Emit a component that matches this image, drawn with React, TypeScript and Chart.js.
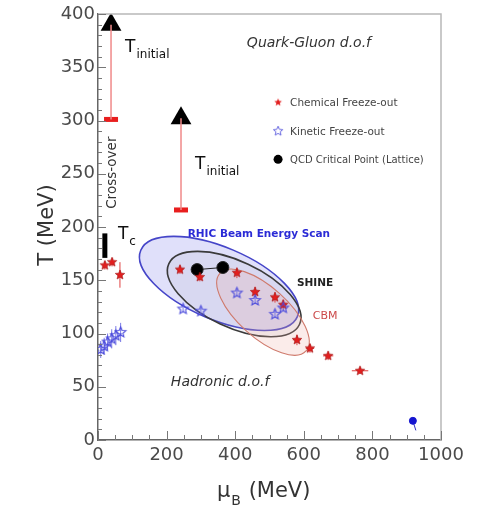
import React, { useEffect, useRef } from "react";
import { Chart, registerables } from "chart.js";
Chart.register(...registerables);

// ---- Data (MeV) ----
const chemMu = [20, 41, 64, 239, 297, 405, 458, 516, 540, 580, 618, 671, 764];
const chemT = [164, 167, 155, 160, 153, 157, 139, 134, 127, 94, 86, 79, 65];
const chemMuErr = [3, 3, 5, 10, 10, 10, 10, 10, 10, 12, 12, 15, 24];
const chemTErr = [4, 4, 12, 4, 4, 5, 5, 5, 5, 5, 4, 4, 3];

const kinMu = [8, 18, 28, 40, 52, 66, 248, 300, 405, 458, 516, 540];
const kinT = [85, 88, 92, 95, 98, 101, 123, 121, 138, 131, 118, 124];
const kinTErr = [8, 8, 8, 9, 9, 9, 3, 3, 3, 3, 3, 3];

const critMu = [289, 364];
const critT = [160, 162];

const tInitMu = [38, 242];
const tInitHigh = [390, 302];
const tInitLow = [301, 216];

const tcMu = [20, 20];
const tcT = [171, 194];

const nucMu = [918];
const nucT = [18];
const nucTErr = [9];

// Experimental programme regions: centre (mu, T), semi-axes (in mu / T units), tilt (deg)
const regionNames = ["RHIC", "SHINE", "CBM"];
const regionMu = [353, 397, 481];
const regionT = [147, 137, 120];
const regionRMu = [248, 210, 169];
const regionRT = [34, 31, 23.5];
const regionTilt = [23, 25, 42];

const xTicks = [0, 200, 400, 600, 800, 1000];
const yTicks = [0, 50, 100, 150, 200, 250, 300, 350, 400];

function makeStar(size: number, fill: string | null, stroke: string | null, lw: number) {
  const c = document.createElement("canvas");
  const pad = 2;
  c.width = c.height = size + pad * 2;
  const ctx = c.getContext("2d")!;
  const cx = c.width / 2, cy = c.height / 2;
  const R = size / 2, r = R * 0.45;
  ctx.beginPath();
  for (let i = 0; i < 10; i++) {
    const a = -Math.PI / 2 + (i * Math.PI) / 5;
    const rad = i % 2 === 0 ? R : r;
    const px = cx + rad * Math.cos(a), py = cy + rad * Math.sin(a);
    if (i === 0) ctx.moveTo(px, py); else ctx.lineTo(px, py);
  }
  ctx.closePath();
  if (fill) { ctx.fillStyle = fill; ctx.fill(); }
  if (stroke) { ctx.strokeStyle = stroke; ctx.lineWidth = lw; ctx.stroke(); }
  return c;
}

const regionStyle: Record<string, { fill: string; stroke: string; width: number }> = {
  RHIC: { fill: "rgba(165,165,240,0.35)", stroke: "#4545c8", width: 1.6 },
  SHINE: { fill: "rgba(140,140,160,0.10)", stroke: "#3a3a3a", width: 1.6 },
  CBM: { fill: "rgba(235,170,160,0.22)", stroke: "#cf7a6c", width: 1.1 },
};

export default function App() {
  const ref = useRef<HTMLCanvasElement>(null);

  useEffect(() => {
    const canvas = ref.current!;
    const redStar = makeStar(10, "#e21f1f", "#a01010", 0.6);
    const blueStar = makeStar(11, null, "#4b4bdc", 1.1);
    const legRed = makeStar(8, "#e21f1f", null, 0);
    const legBlue = makeStar(10, null, "#6a6ae0", 1);

    const plugin = {
      id: "phaseDiagram",
      beforeDatasetsDraw(chart: any) {
        const { ctx, scales: { x, y } } = chart;
        ctx.save();
        regionNames.forEach((n, i) => {
          const cx = x.getPixelForValue(regionMu[i]);
          const cy = y.getPixelForValue(regionT[i]);
          const rx = Math.abs(x.getPixelForValue(regionMu[i] + regionRMu[i]) - cx);
          const ry = Math.abs(y.getPixelForValue(regionT[i] + regionRT[i]) - cy);
          const st = regionStyle[n];
          ctx.beginPath();
          ctx.ellipse(cx, cy, rx, ry, (regionTilt[i] * Math.PI) / 180, 0, Math.PI * 2);
          ctx.fillStyle = st.fill;
          ctx.fill();
          ctx.strokeStyle = st.stroke;
          ctx.lineWidth = st.width;
          ctx.stroke();
        });
        // error bars
        ctx.lineWidth = 1;
        ctx.strokeStyle = "#e04040";
        chemMu.forEach((m, i) => {
          const px = x.getPixelForValue(m), py = y.getPixelForValue(chemT[i]);
          ctx.beginPath();
          ctx.moveTo(x.getPixelForValue(m - chemMuErr[i]), py);
          ctx.lineTo(x.getPixelForValue(m + chemMuErr[i]), py);
          ctx.moveTo(px, y.getPixelForValue(chemT[i] - chemTErr[i]));
          ctx.lineTo(px, y.getPixelForValue(chemT[i] + chemTErr[i]));
          ctx.stroke();
        });
        ctx.strokeStyle = "#7a7ae6";
        kinMu.forEach((m, i) => {
          const px = x.getPixelForValue(m);
          ctx.beginPath();
          ctx.moveTo(px, y.getPixelForValue(kinT[i] - kinTErr[i]));
          ctx.lineTo(px, y.getPixelForValue(kinT[i] + kinTErr[i]));
          ctx.stroke();
        });
        ctx.strokeStyle = "#3030c0";
        nucMu.forEach((m, i) => {
          const px = x.getPixelForValue(m);
          ctx.beginPath();
          ctx.moveTo(px, y.getPixelForValue(nucT[i]));
          ctx.lineTo(px + 3, y.getPixelForValue(nucT[i] - nucTErr[i]));
          ctx.stroke();
        });
        ctx.restore();
      },
      afterDraw(chart: any) {
        const { ctx, chartArea: ca, scales: { x, y } } = chart;
        ctx.save();
        // frame top/right
        ctx.strokeStyle = "#b8b8b8";
        ctx.lineWidth = 1.5;
        ctx.beginPath();
        ctx.moveTo(ca.left, ca.top);
        ctx.lineTo(ca.right, ca.top);
        ctx.lineTo(ca.right, ca.bottom);
        ctx.stroke();
        // inward ticks
        ctx.strokeStyle = "#777";
        ctx.lineWidth = 1;
        for (let v = 0; v <= 400; v += 10) {
          const py = Math.round(y.getPixelForValue(v)) + 0.5;
          const len = v % 50 === 0 ? 8 : 4;
          ctx.beginPath();
          ctx.moveTo(ca.left, py);
          ctx.lineTo(ca.left + len, py);
          ctx.stroke();
        }
        for (let v = 0; v <= 1000; v += 50) {
          const px = Math.round(x.getPixelForValue(v)) + 0.5;
          const len = v % 200 === 0 ? 9 : 5;
          ctx.beginPath();
          ctx.moveTo(px, ca.bottom);
          ctx.lineTo(px, ca.bottom - len);
          ctx.stroke();
        }

        const X = (m: number) => x.getPixelForValue(m);
        const Y = (t: number) => y.getPixelForValue(t);
        const text = (s: string, px: number, py: number, font: string, color: string, align: CanvasTextAlign = "left") => {
          ctx.font = font;
          ctx.fillStyle = color;
          ctx.textAlign = align;
          ctx.textBaseline = "alphabetic";
          ctx.fillText(s, px, py);
          return ctx.measureText(s).width;
        };

        // T_initial labels
        const sub = (main: string, s: string, m: number, t: number) => {
          const px = X(m), py = Y(t);
          const w = text(main, px, py, "17px 'DejaVu Sans'", "#111");
          text(s, px + w + 1, py + 6, "12px 'DejaVu Sans'", "#111");
        };
        sub("T", "initial", 79, 364);
        sub("T", "initial", 283, 254);
        sub("T", "c", 58, 189);

        // Cross-over (rotated)
        ctx.save();
        ctx.translate(X(38), Y(251));
        ctx.rotate(-Math.PI / 2);
        text("Cross-over", 0, 5, "13.5px 'DejaVu Sans'", "#333", "center");
        ctx.restore();

        text("Quark-Gluon d.o.f", X(615), Y(369), "italic 14px 'DejaVu Sans'", "#333", "center");
        text("Hadronic d.o.f", X(356), Y(51), "italic 14px 'DejaVu Sans'", "#333", "center");
        text("RHIC Beam Energy Scan", X(469), Y(191), "bold 10.5px 'DejaVu Sans'", "#2b2bd6", "center");
        text("SHINE", X(633), Y(145), "bold 10.5px 'DejaVu Sans'", "#222", "center");
        text("CBM", X(662), Y(114), "11px 'DejaVu Sans'", "#cc4a4a", "center");

        // legend
        const lx = X(525), tx = X(560);
        const rows = [317, 290, 263.5];
        ctx.drawImage(legRed, lx - legRed.width / 2, Y(rows[0]) - legRed.height / 2);
        ctx.drawImage(legBlue, lx - legBlue.width / 2, Y(rows[1]) - legBlue.height / 2);
        ctx.beginPath();
        ctx.arc(lx, Y(rows[2]), 4.5, 0, Math.PI * 2);
        ctx.fillStyle = "#000";
        ctx.fill();
        const lf = "10.5px 'DejaVu Sans'";
        text("Chemical Freeze-out", tx, Y(rows[0]) + 4, lf, "#444");
        text("Kinetic Freeze-out", tx, Y(rows[1]) + 4, lf, "#444");
        text("QCD Critical Point (Lattice)", tx, Y(rows[2]) + 4, "10px 'DejaVu Sans'", "#444");

        // axis titles
        const tf = "21px 'DejaVu Sans'";
        const cx = 217;
        const wmu = text("μ", cx, 497, tf, "#333");
        const wb = text("B", cx + wmu + 1, 505, "14px 'DejaVu Sans'", "#333");
        text(" (MeV)", cx + wmu + wb + 2, 497, tf, "#333");

        ctx.save();
        ctx.translate(53, 225);
        ctx.rotate(-Math.PI / 2);
        text("T (MeV)", 0, 0, tf, "#333", "center");
        ctx.restore();

        ctx.restore();
      },
    };

    const chart = new Chart(canvas, {
      type: "scatter",
      data: {
        datasets: [
          {
            label: "T initial 1",
            data: [{ x: tInitMu[0], y: tInitHigh[0] }, { x: tInitMu[0], y: tInitLow[0] }],
            showLine: true, borderColor: "#f08a8a", borderWidth: 1.5, pointRadius: 0,
          },
          {
            label: "T initial 2",
            data: [{ x: tInitMu[1], y: tInitHigh[1] }, { x: tInitMu[1], y: tInitLow[1] }],
            showLine: true, borderColor: "#f08a8a", borderWidth: 1.5, pointRadius: 0,
          },
          {
            label: "Tc",
            data: tcMu.map((m, i) => ({ x: m, y: tcT[i] })),
            showLine: true, borderColor: "#000", borderWidth: 5, pointRadius: 0,
          },
          {
            label: "T initial low",
            data: tInitMu.map((m, i) => ({ x: m, y: tInitLow[i] })),
            pointStyle: "line", pointRadius: 7, borderWidth: 5, borderColor: "#e81e1e", backgroundColor: "#e81e1e",
          },
          {
            label: "T initial high",
            data: tInitMu.map((m, i) => ({ x: m, y: tInitHigh[i] })),
            pointStyle: "triangle", pointRadius: 12, borderWidth: 0, backgroundColor: "#000",
          },
          {
            label: "Kinetic Freeze-out",
            data: kinMu.map((m, i) => ({ x: m, y: kinT[i] })),
            pointStyle: blueStar as any, pointRadius: 6,
          },
          {
            label: "Chemical Freeze-out",
            data: chemMu.map((m, i) => ({ x: m, y: chemT[i] })),
            pointStyle: redStar as any, pointRadius: 6,
          },
          {
            label: "QCD Critical Point (Lattice)",
            data: critMu.map((m, i) => ({ x: m, y: critT[i] })),
            showLine: true, borderColor: "#222", borderWidth: 1,
            pointStyle: "circle", pointRadius: 6, backgroundColor: "#000",
          },
          {
            label: "Nuclear matter",
            data: nucMu.map((m, i) => ({ x: m, y: nucT[i] })),
            pointStyle: "circle", pointRadius: 3.5, backgroundColor: "#1515d0", borderColor: "#1515d0",
          },
        ],
      },
      options: {
        animation: false,
        responsive: false,
        maintainAspectRatio: false,
        devicePixelRatio: 1,
        layout: { padding: { top: 14, right: 38, left: 0, bottom: 0 } },
        plugins: { legend: { display: false }, tooltip: { enabled: false } },
        scales: {
          x: {
            type: "linear", min: 0, max: 1000,
            afterFit: (s: any) => { s.height = 73; },
            afterBuildTicks: (s: any) => { s.ticks = xTicks.map((v) => ({ value: v })); },
            ticks: {
              font: { family: "'DejaVu Sans'", size: 18 }, color: "#4a4a4a", padding: 5, maxRotation: 0,
              callback: (v: any) => String(v),
            },
            grid: { display: false, drawTicks: false },
            border: { display: true, color: "#666", width: 1.5 },
          },
          y: {
            type: "linear", min: 0, max: 400,
            afterFit: (s: any) => { s.width = 98; },
            afterBuildTicks: (s: any) => { s.ticks = yTicks.map((v) => ({ value: v })); },
            ticks: {
              font: { family: "'DejaVu Sans'", size: 18 }, color: "#4a4a4a", padding: 3,
              callback: (v: any) => String(v),
            },
            grid: { display: false, drawTicks: false },
            border: { display: true, color: "#666", width: 1.5 },
          },
        },
      },
      plugins: [plugin],
    });
    return () => chart.destroy();
  }, []);

  return (
    <div style={{ position: "absolute", left: 0, top: 0, width: 479, height: 513, background: "#fff" }}>
      <canvas ref={ref} width={479} height={513} style={{ width: 479, height: 513, display: "block" }} />
    </div>
  );
}
